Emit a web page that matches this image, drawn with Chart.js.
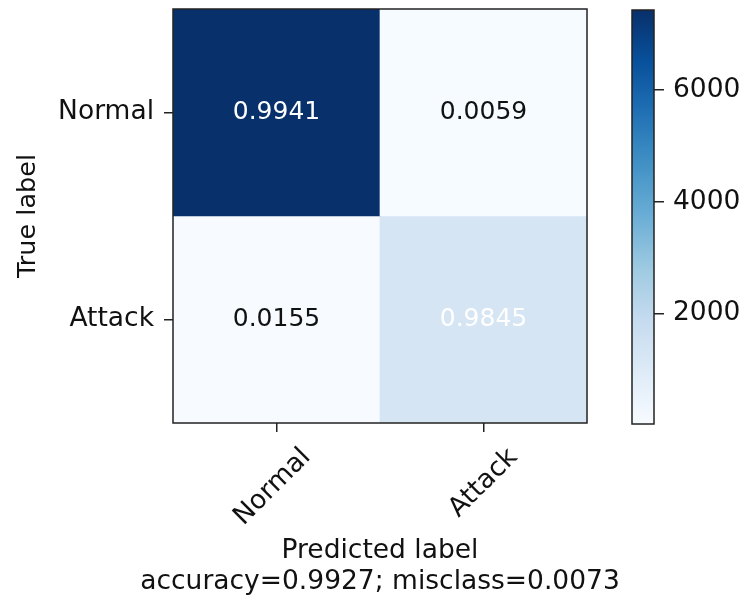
<!DOCTYPE html>
<html>
<head>
<meta charset="utf-8">
<script src="https://cdn.jsdelivr.net/npm/chart.js@4.4.0/dist/chart.umd.min.js"></script>
<style>
  html, body { margin: 0; padding: 0; background: #fff; }
  #wrap { position: relative; width: 744px; height: 598px; }
  #cm { position: absolute; left: 0; top: 0; }
  #cbar { position: absolute; left: 620px; top: 0; }
</style>
</head>
<body>
<div id="wrap">
  <canvas id="cm" width="744" height="598"></canvas>
  <canvas id="cbar" width="124" height="598"></canvas>
</div>
<script>
// --- data ---
const classLabels = ['Normal', 'Attack'];
const countsNormal = [7430, 44];   // true Normal -> predicted Normal / Attack
const countsAttack = [20, 1271];   // true Attack -> predicted Normal / Attack
const colorbarTicks = [2000, 4000, 6000];

const rows = [countsNormal, countsAttack];
const allCounts = rows.flat();
const vmin = Math.min(...allCounts);
const vmax = Math.max(...allCounts);
const rates = rows.map(r => {
    const total = r.reduce((a, b) => a + b, 0);
    return r.map(v => v / total);
});
const total = allCounts.reduce((a, b) => a + b, 0);
const correct = rows.reduce((a, r, i) => a + r[i], 0);
const accuracy = correct / total;
const xTitle = ['Predicted label', `accuracy=${accuracy.toFixed(4)}; misclass=${(1 - accuracy).toFixed(4)}`];

// matplotlib "Blues"
const bluesStops = ['#f7fbff', '#deebf7', '#c6dbef', '#9ecae1', '#6baed6', '#4292c6', '#2171b5', '#08519c', '#08306b'];
const hexRgb = h => [1, 3, 5].map(k => parseInt(h.slice(k, k + 2), 16));
function blues(t) {
    t = Math.min(1, Math.max(0, t));
    const p = t * 8;
    const i = Math.min(7, Math.floor(p));
    const f = p - i;
    const a = hexRgb(bluesStops[i]), b = hexRgb(bluesStops[i + 1]);
    const c = a.map((v, k) => Math.round(v + (b[k] - v) * f));
    return `rgb(${c[0]},${c[1]},${c[2]})`;
}

const FAMILY = 'DejaVu Sans';
const LABEL_SIZE = 26.5;
const CELL_SIZE = 25;
const INK = '#111';
const EDGE = '#222';
Chart.defaults.font.family = FAMILY;
Chart.defaults.font.size = LABEL_SIZE;
Chart.defaults.color = INK;

// frame around the axes
const boxPlugin = {
    id: 'box',
    afterDraw(chart) {
        const { ctx, chartArea: a } = chart;
        ctx.save();
        ctx.strokeStyle = EDGE;
        ctx.lineWidth = 1.5;
        ctx.strokeRect(a.left, a.top, a.right - a.left, a.bottom - a.top);
        ctx.restore();
    }
};

// cell annotations
const cellText = {
    id: 'cellText',
    afterDatasetsDraw(chart) {
        const { ctx, scales } = chart;
        const thresh = Math.max(...rates.flat()) / 1.5;
        ctx.save();
        ctx.font = `${CELL_SIZE}px ${FAMILY}`;
        ctx.textAlign = 'center';
        ctx.textBaseline = 'middle';
        rates.forEach((r, i) => {
            r.forEach((v, j) => {
                ctx.fillStyle = v > thresh ? '#fff' : INK;
                ctx.fillText(v.toFixed(4), scales.x.getPixelForValue(j), scales.y.getPixelForValue(i));
            });
        });
        ctx.restore();
    }
};

// x label (two lines, centred under the axes, not squeezed to the axis width)
const xTitlePlugin = {
    id: 'xTitle',
    afterDraw(chart) {
        const { ctx, chartArea: a, height } = chart;
        const lh = LABEL_SIZE * 1.15;
        ctx.save();
        ctx.font = `${LABEL_SIZE}px ${FAMILY}`;
        ctx.fillStyle = INK;
        ctx.textAlign = 'center';
        ctx.textBaseline = 'middle';
        const cx = (a.left + a.right) / 2;
        xTitle.forEach((t, k) => {
            ctx.fillText(t, cx, height - 16 - lh * (xTitle.length - 1 - k));
        });
        ctx.restore();
    }
};

const tickGrid = { drawOnChartArea: false, drawTicks: true, tickLength: 9, color: EDGE, lineWidth: 1.5 };

new Chart(document.getElementById('cm'), {
    type: 'bar',
    data: {
        labels: classLabels,
        datasets: rows.map((r, i) => ({
            data: classLabels.map(() => [i - 0.5, i + 0.5]),
            backgroundColor: r.map(v => blues((v - vmin) / (vmax - vmin))),
            borderWidth: 0,
            barPercentage: 1,
            categoryPercentage: 1,
            grouped: false
        }))
    },
    options: {
        responsive: false,
        animation: false,
        layout: { padding: { top: 9, right: 157, left: 0, bottom: 0 } },
        plugins: { legend: { display: false }, tooltip: { enabled: false } },
        scales: {
            x: {
                offset: true,
                grid: { ...tickGrid, offset: false },
                border: { display: false },
                ticks: { minRotation: 45, maxRotation: 45, labelOffset: 30, padding: 10 },
                afterFit: s => { s.height = 175; s.paddingLeft = 0; s.paddingRight = 0; }
            },
            y: {
                type: 'linear',
                min: -0.5,
                max: 1.5,
                reverse: true,
                afterBuildTicks: s => { s.ticks = classLabels.map((_, i) => ({ value: i })); },
                grid: tickGrid,
                border: { display: false },
                ticks: { padding: 10, callback: v => classLabels[v] },
                title: { display: true, text: 'True label', font: { size: 25.5 }, padding: { top: 13, bottom: 0 } },
                afterFit: s => { s.width = 173; s.paddingTop = 0; s.paddingBottom = 0; }
            }
        }
    },
    plugins: [cellText, boxPlugin, xTitlePlugin]
});

// colorbar
new Chart(document.getElementById('cbar'), {
    type: 'bar',
    data: {
        labels: [''],
        datasets: [{
            data: [[vmin, vmax]],
            backgroundColor: ctx => {
                const area = ctx.chart.chartArea;
                if (!area) return bluesStops[0];
                const g = ctx.chart.ctx.createLinearGradient(0, area.bottom, 0, area.top);
                bluesStops.forEach((c, k) => g.addColorStop(k / 8, c));
                return g;
            },
            borderWidth: 0,
            barPercentage: 1,
            categoryPercentage: 1
        }]
    },
    options: {
        responsive: false,
        animation: false,
        layout: { padding: { top: 10, right: 0, left: 12, bottom: 174 } },
        plugins: { legend: { display: false }, tooltip: { enabled: false } },
        scales: {
            x: { display: false },
            y: {
                position: 'right',
                min: vmin,
                max: vmax,
                afterBuildTicks: s => { s.ticks = colorbarTicks.map(v => ({ value: v })); },
                grid: { ...tickGrid, tickLength: 10 },
                border: { display: false },
                ticks: { padding: 9, callback: v => String(v) },
                afterFit: s => { s.width = 90; s.paddingTop = 0; s.paddingBottom = 0; }
            }
        }
    },
    plugins: [boxPlugin]
});
</script>
</body>
</html>
